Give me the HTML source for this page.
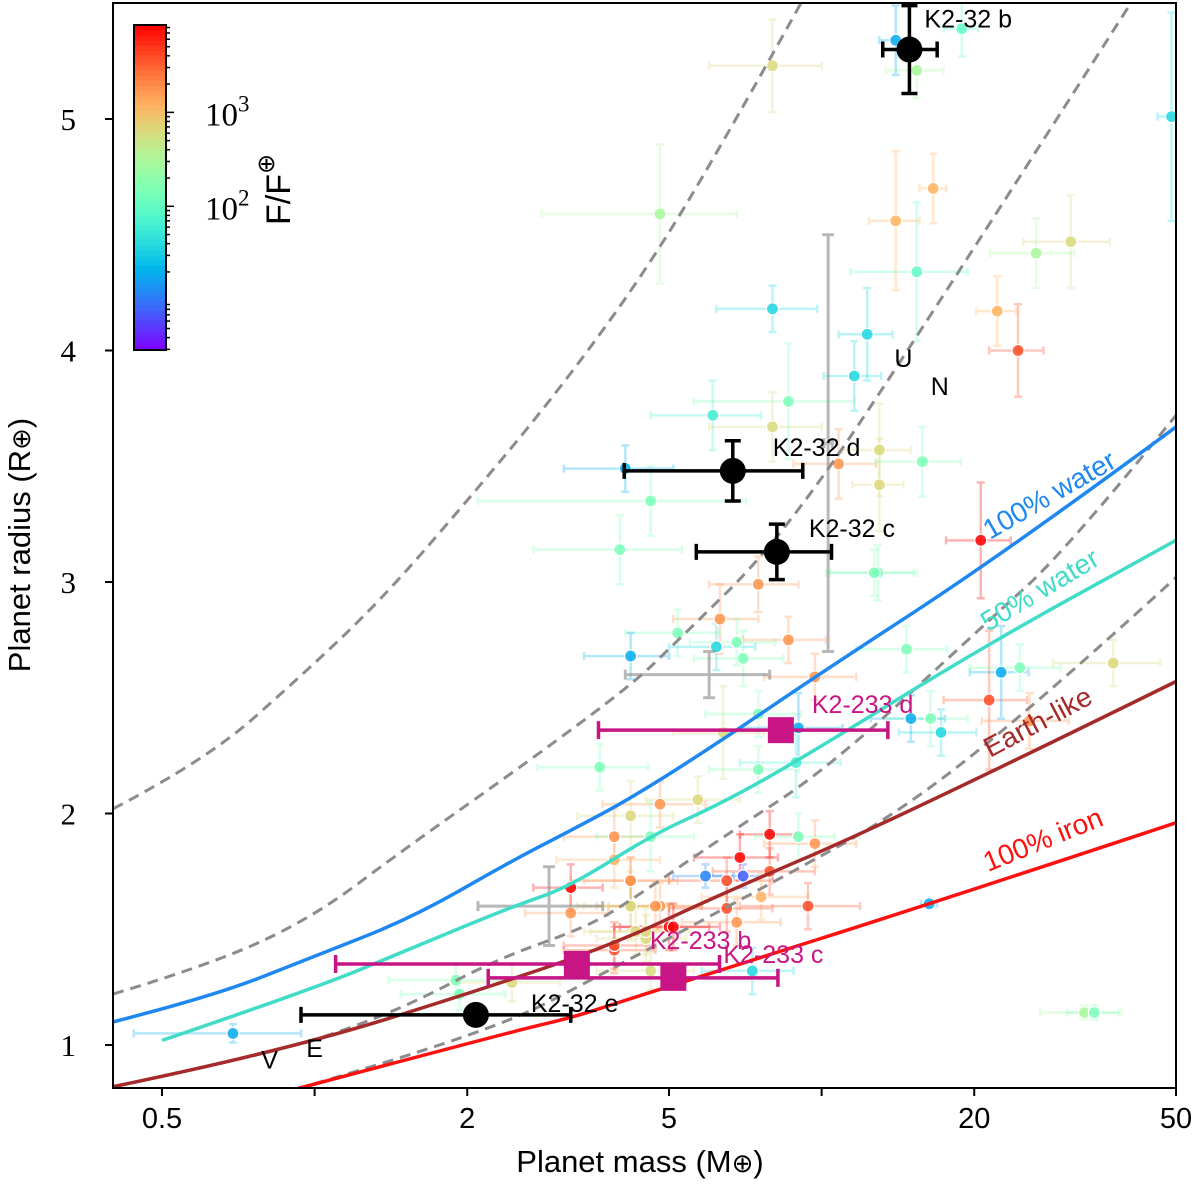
<!DOCTYPE html>
<html><head><meta charset="utf-8"><style>
html,body{margin:0;padding:0;background:#fff;}
svg{display:block;}
text{font-family:"Liberation Sans",sans-serif;}
.serif{font-family:"Liberation Serif",serif;}
</style></head><body>
<svg id="chart" width="1200" height="1184" viewBox="0 0 1200 1184" xmlns="http://www.w3.org/2000/svg">
<defs>
<clipPath id="plotclip"><rect x="113" y="3" width="1063" height="1085"/></clipPath>
</defs>
<g id="bg" clip-path="url(#plotclip)"></g>
<g id="curves" clip-path="url(#plotclip)"></g>
<g id="hl" clip-path="url(#plotclip)"></g>
<rect x="113" y="3" width="1063" height="1085" fill="none" stroke="#000" stroke-width="2"/>
<g id="axes"></g>
<g id="cbar"></g>
<text x="640" y="1172" font-size="31" text-anchor="middle">Planet mass (M<tspan font-size="26">⊕</tspan>)</text>
<text transform="translate(30,545) rotate(-90)" font-size="31" text-anchor="middle">Planet radius (R<tspan font-size="26">⊕</tspan>)</text>
</svg>
<script>
// ---- data ----
const xTickVals = [0.5, 2, 5, 20, 50];
const xTickLabels = ["0.5", "2", "5", "20", "50"];
const xMinorTicks = [1, 10];
const yTickVals = [1, 2, 3, 4, 5];
const yTickLabels = ["1", "2", "3", "4", "5"];

// composition curves (mass, radius)
const water100M = [0.40, 0.63, 0.99, 1.56, 2.47, 3.16, 4.24, 6.3, 9.70, 23.5, 50];
const water100R = [1.10, 1.21, 1.38, 1.55, 1.80, 1.92, 2.07, 2.31, 2.59, 3.14, 3.67];
const water50M = [0.5, 0.99, 1.56, 2.47, 3.16, 4.65, 6.3, 9.02, 20.8, 46.3, 50];
const water50R = [1.02, 1.24, 1.42, 1.60, 1.68, 1.91, 2.04, 2.23, 2.72, 3.14, 3.18];
const earthM = [0.40, 0.86, 2.28, 3.94, 6.3, 14.2, 50];
const earthR = [0.82, 0.97, 1.26, 1.44, 1.65, 1.98, 2.57];
const ironM = [0.92, 2.47, 3.24, 4.06, 6.05, 16.4, 50];
const ironR = [0.81, 1.06, 1.12, 1.19, 1.31, 1.61, 1.96];
const dash1M = [0.40, 0.61, 0.937, 1.35, 2.0, 3.04, 4.59, 6.6, 9.1];
const dash1R = [2.02, 2.23, 2.59, 2.92, 3.35, 3.83, 4.37, 4.95, 5.50];
const dash2M = [0.40, 0.63, 0.99, 1.49, 2.70, 4.24, 5.0, 8.28, 15.4, 40.7];
const dash2R = [1.22, 1.35, 1.55, 1.84, 2.24, 2.56, 2.71, 3.18, 4.05, 5.50];
const dash3M = [0.40, 0.86, 1.47, 2.28, 3.45, 4.24, 6.3, 10.4, 20.8, 30.5, 50];
const dash3R = [0.82, 0.97, 1.15, 1.37, 1.51, 1.63, 1.89, 2.20, 2.81, 3.14, 3.72];
const dash4M = [0.92, 1.47, 2.47, 3.24, 7.98, 14.7, 29.5, 50];
const dash4R = [0.81, 0.94, 1.11, 1.24, 1.70, 2.02, 2.56, 3.02];

// background planets
const bgMass = [0.69,1.9,1.93,2.45,3.2,3.2,3.9,4.3,4.6,5.0,4.5,4.2,4.8,3.9,3.9,4.2,4.6,4.8,5.7,4.2,3.65,
 7.5,6.3,5.2,4.2,6.2,6.8,7.0,8.6,12.9,9.7,14.7,7.5,9.0,6.4,15.0,16.4,17.2,21.4,25.7,22.6,24.6,37.6,8.9,7.5,
 7.9,9.0,9.7,6.9,7.0,6.5,7.9,4.2,7.6,6.5,9.4,4.7,4.2,6.8,5.1,4.5,3.9,16.3,7.3,
 8.0,14.0,15.4,18.9,49,16.6,14.0,4.8,15.4,31,26.5,8.0,22.2,24.4,12.3,11.6,8.6,6.1,8.0,13,10.8,15.8,13,20.6,12.7,4.6,4.1,4.0,33,34.5,5.9];
const bgRad = [1.05,1.28,1.22,1.27,1.68,1.57,1.41,1.49,1.32,1.51,1.46,1.6,1.6,1.9,1.8,1.71,1.9,2.04,2.06,1.99,2.2,
 2.99,2.84,2.78,2.68,2.72,2.74,2.67,2.75,3.04,2.59,2.71,2.43,2.37,2.35,2.41,2.41,2.35,2.49,2.40,2.61,2.63,2.65,2.22,2.19,
 1.91,1.9,1.87,1.81,1.73,1.71,1.75,1.71,1.64,1.59,1.6,1.6,1.6,1.53,1.51,1.49,1.43,1.61,1.32,
 5.23,5.34,5.21,5.39,5.01,4.70,4.56,4.59,4.34,4.47,4.42,4.18,4.17,4.0,4.07,3.89,3.78,3.72,3.67,3.57,3.51,3.52,3.42,3.18,3.04,3.35,3.49,3.14,1.14,1.14,1.73];
const bgFlux = [19,148,148,660,9000,1780,4000,660,660,9000,660,660,1780,1780,1170,1780,148,1780,660,660,148,
 1780,1780,148,19,37,148,148,1780,148,1780,148,148,19,660,19,148,37,4000,1780,19,148,660,60,148,
 9000,148,1780,9000,8,4000,4000,1780,1170,4000,4000,1780,660,1780,9000,660,4000,19,37,
 660,19,300,100,37,1170,1170,300,100,660,300,37,1170,4000,37,37,148,60,660,660,1780,148,660,9000,148,148,19,148,300,148,12];
const bgMassErr = [0.25,0.5,0.45,0.6,0.5,0.6,0.8,0.9,1.0,1.0,0.9,0.8,1.0,0.8,0.9,0.8,1.0,1.1,1.2,0.9,0.9,
 1.5,1.2,1.1,0.8,1.2,1.3,1.4,1.6,2.5,2.0,3.0,1.6,2.0,1.3,2.5,3.0,3.0,4.0,5.0,3.0,5.0,9.0,2.0,1.5,
 1.0,1.6,2.0,1.3,1.0,1.5,1.8,1.0,1.8,1.5,2.5,1.1,0.9,1.5,1.2,1.0,0.8,0.6,1.5,
 2.0,1.0,2.0,1.5,3.0,1.0,1.6,2.0,4.0,6.0,5.0,1.8,2.0,3.0,1.5,1.5,3.0,1.5,2.0,2.0,2.0,3.0,1.5,3.0,2.5,2.5,1.0,1.3,6.0,4.0,0.8];
const bgRadErr = [0.04,0.07,0.07,0.08,0.1,0.1,0.1,0.1,0.08,0.1,0.1,0.15,0.1,0.12,0.12,0.1,0.15,0.1,0.1,0.15,0.1,
 0.12,0.15,0.1,0.1,0.1,0.1,0.12,0.1,0.12,0.1,0.1,0.1,0.15,0.2,0.1,0.12,0.1,0.3,0.12,0.2,0.1,0.1,0.15,0.1,
 0.1,0.1,0.1,0.1,0.05,0.1,0.1,0.1,0.1,0.1,0.1,0.1,0.1,0.1,0.1,0.1,0.1,0.02,0.1,
 0.2,0.15,0.12,0.12,0.45,0.15,0.3,0.3,0.3,0.2,0.15,0.1,0.15,0.2,0.2,0.15,0.25,0.15,0.15,0.2,0.15,0.15,0.2,0.25,0.1,0.15,0.1,0.15,0.03,0.03,0.05];

// gray (uncertain) planets
const grayMass = [2.9, 6.0, 10.3];
const grayRad = [1.6, 2.6, 3.6];
const grayMassErrLo = [0.8, 1.9, 0.2];
const grayMassErrHi = [0.8, 1.9, 0.2];
const grayRadErr = [0.17, 0.1, 0.9];

// K2-32 planets
const k32Names = ["K2-32 b", "K2-32 d", "K2-32 c", "K2-32 e"];
const k32Mass = [14.9, 6.68, 8.16, 2.08];
const k32Rad = [5.30, 3.48, 3.13, 1.13];
const k32MLo = [1.7, 2.6, 2.5, 1.14];
const k32MHi = [2.0, 2.5, 2.3, 1.12];
const k32RErr = [0.19, 0.13, 0.12, 0.0];
// K2-233 planets
const k233Names = ["K2-233 d", "K2-233 b", "K2-233 c"];
const k233Mass = [8.31, 3.29, 5.1];
const k233Rad = [2.36, 1.35, 1.29];
const k233MLo = [4.68, 2.19, 2.9];
const k233MHi = [5.2, 3.0, 3.1];
// solar system
const solarNames = ["V", "E", "U", "N"];
const solarMass = [0.815, 1.0, 14.5, 17.1];
const solarRad = [0.95, 1.0, 3.98, 3.86];

// ---- scales ----
const NS = "http://www.w3.org/2000/svg";
function xS(m){ return 162 + 507*Math.log10(m/0.5); }
function yS(r){ return 1045 - 231.5*(r-1); }
const fluxLogMin = 0.47, fluxLogMax = 3.93;
function rainbow(t){
  t = Math.max(0, Math.min(1, t));
  const r = Math.min(1, Math.abs(2*t-0.5)), g = Math.sin(Math.PI*t), b = Math.cos(Math.PI*t/2);
  return `rgb(${Math.round(r*255)},${Math.round(g*255)},${Math.round(b*255)})`;
}
function fluxColor(f){ return rainbow((Math.log10(f)-fluxLogMin)/(fluxLogMax-fluxLogMin)); }
function mk(tag, attrs, parent){
  const e = document.createElementNS(NS, tag);
  for (const k in attrs) e.setAttribute(k, attrs[k]);
  parent.appendChild(e); return e;
}
function smoothPath(pts){
  let d = `M${pts[0][0].toFixed(1)},${pts[0][1].toFixed(1)}`;
  if (pts.length < 3){ d += ` L${pts[1][0]},${pts[1][1]}`; return d; }
  for (let i=1;i<pts.length-1;i++){
    const mx = (pts[i][0]+pts[i+1][0])/2, my = (pts[i][1]+pts[i+1][1])/2;
    if (i === pts.length-2) d += ` Q${pts[i][0].toFixed(1)},${pts[i][1].toFixed(1)} ${pts[i+1][0].toFixed(1)},${pts[i+1][1].toFixed(1)}`;
    else d += ` Q${pts[i][0].toFixed(1)},${pts[i][1].toFixed(1)} ${mx.toFixed(1)},${my.toFixed(1)}`;
  }
  return d;
}
function drawCurve(ms, rs, color, w, dash, name){
  const pts = ms.map((m,i)=>[xS(m), yS(rs[i])]);
  const p = mk("path", {d: smoothPath(pts), fill:"none", stroke: color, "stroke-width": w}, document.getElementById("curves"));
  if (dash) p.setAttribute("stroke-dasharray", dash);
  
  
}

// ---- background points ----
const bg = document.getElementById("bg");
for (let i=0;i<bgMass.length;i++){
  const c = fluxColor(bgFlux[i]);
  const x = xS(bgMass[i]), y = yS(bgRad[i]);
  const x0 = xS(Math.max(0.05,bgMass[i]-bgMassErr[i])), x1 = xS(bgMass[i]+bgMassErr[i]);
  const y0 = yS(bgRad[i]-bgRadErr[i]), y1 = yS(bgRad[i]+bgRadErr[i]);
  const g = mk("g", {}, bg);
  
  
  mk("path", {d:`M${x0},${y}H${x1}M${x},${y0}V${y1}M${x0},${y-4}v8M${x1},${y-4}v8M${x-4},${y0}h8M${x-4},${y1}h8`, stroke:c, "stroke-width":2.5, "stroke-opacity":0.3, fill:"none"}, g);
}
for (let i=0;i<bgMass.length;i++){
  const dot = mk("circle", {cx:xS(bgMass[i]), cy:yS(bgRad[i]), r:6, fill:fluxColor(bgFlux[i]), stroke:"#fff", "stroke-width":1.2, "fill-opacity":0.85}, bg);
  
  
}
for (let i=0;i<grayMass.length;i++){
  const x = xS(grayMass[i]), y = yS(grayRad[i]);
  const x0 = xS(grayMass[i]-grayMassErrLo[i]), x1 = xS(grayMass[i]+grayMassErrHi[i]);
  const y0 = yS(grayRad[i]-grayRadErr[i]), y1 = yS(grayRad[i]+grayRadErr[i]);
  const p = mk("path", {d:`M${x0},${y}H${x1}M${x},${y0}V${y1}M${x0},${y-5}v10M${x1},${y-5}v10M${x-6},${y0}h12M${x-6},${y1}h12`, stroke:"#888", "stroke-width":3, "stroke-opacity":0.6, fill:"none"}, bg);
  
  
}

// ---- curves ----
drawCurve(dash1M, dash1R, "#8c8c8c", 3, "11,7", "dashed-curve-1");
drawCurve(dash2M, dash2R, "#8c8c8c", 3, "11,7", "dashed-curve-2");
drawCurve(dash3M, dash3R, "#8c8c8c", 3, "11,7", "dashed-curve-3");
drawCurve(dash4M, dash4R, "#8c8c8c", 3, "11,7", "dashed-curve-4");
drawCurve(water100M, water100R, "#1e88f0", 3.5, null, "water-100-curve");
drawCurve(water50M, water50R, "#40dcc8", 3.5, null, "water-50-curve");
drawCurve(earthM, earthR, "#a52a2a", 3.5, null, "earth-like-curve");
drawCurve(ironM, ironR, "#ff1010", 3.5, null, "iron-100-curve");

const cv = document.getElementById("curves");
function curveLabel(txt, x, y, ang, color, name){
  const t = mk("text", {x:x, y:y, fill:color, "font-size":28, transform:`rotate(${ang} ${x} ${y})`}, cv);
  t.textContent = txt;
  
  
}
curveLabel("100% water", 990, 540, -30, "#1e88f0", "water-100-label");
curveLabel("50% water", 988, 632, -31, "#40dcc8", "water-50-label");
curveLabel("Earth-like", 990, 758, -28, "#a52a2a", "earth-like-label");
curveLabel("100% iron", 988, 872, -22, "#ff1010", "iron-100-label");

// ---- highlighted ----
const hl = document.getElementById("hl");
for (let i=0;i<k233Mass.length;i++){
  const x = xS(k233Mass[i]), y = yS(k233Rad[i]);
  const x0 = xS(k233Mass[i]-k233MLo[i]), x1 = xS(k233Mass[i]+k233MHi[i]);
  const p = mk("path", {d:`M${x0},${y}H${x1}M${x0},${y-9}v18M${x1},${y-9}v18`, stroke:"#c71585", "stroke-width":3.5, fill:"none"}, hl);
  
  
  const s = mk("rect", {x:x-13, y:y-13, width:26, height:26, fill:"#c71585"}, hl);
  
  
}
for (let i=0;i<k32Mass.length;i++){
  const x = xS(k32Mass[i]), y = yS(k32Rad[i]);
  const x0 = xS(k32Mass[i]-k32MLo[i]), x1 = xS(k32Mass[i]+k32MHi[i]);
  const y0 = yS(k32Rad[i]-k32RErr[i]), y1 = yS(k32Rad[i]+k32RErr[i]);
  let d = `M${x0},${y}H${x1}M${x0},${y-8}v16M${x1},${y-8}v16`;
  if (k32RErr[i]>0) d += `M${x},${y0}V${y1}M${x-8},${y0}h16M${x-8},${y1}h16`;
  const p = mk("path", {d:d, stroke:"#000", "stroke-width":3.5, fill:"none"}, hl);
  
  
  const c = mk("circle", {cx:x, cy:y, r:13, fill:"#000"}, hl);
  
  
}
const k32LabelDx = [15, 40, 32, 55], k32LabelDy = [-22, -15, -15, -3];
for (let i=0;i<k32Names.length;i++){
  const t = mk("text", {x:xS(k32Mass[i])+k32LabelDx[i], y:yS(k32Rad[i])+k32LabelDy[i], "font-size":25, fill:"#000"}, hl);
  t.textContent = k32Names[i];
  
  
}
const k233LabelDx = [31, 73, 50], k233LabelDy = [-17, -15, -15];
for (let i=0;i<k233Names.length;i++){
  const t = mk("text", {x:xS(k233Mass[i])+k233LabelDx[i], y:yS(k233Rad[i])+k233LabelDy[i], "font-size":25, fill:"#c71585"}, hl);
  t.textContent = k233Names[i];
  
  
}
for (let i=0;i<solarNames.length;i++){
  const t = mk("text", {x:xS(solarMass[i]), y:yS(solarRad[i])+12, "font-size":25, fill:"#000", "text-anchor":"middle"}, hl);
  t.textContent = solarNames[i];
  
  
}

// ---- axes ----
const ax = document.getElementById("axes");
for (let i=0;i<xTickVals.length;i++){
  const x = xS(xTickVals[i]);
  const l = mk("line", {x1:x, y1:1088, x2:x, y2:1096, stroke:"#000", "stroke-width":2}, ax);
  
  
  const t = mk("text", {x:x, y:1128, "font-size":29, "text-anchor":"middle"}, ax);
  t.textContent = xTickLabels[i];
  
  
}
for (const v of xMinorTicks){
  const l = mk("line", {x1:xS(v), y1:1088, x2:xS(v), y2:1096, stroke:"#000", "stroke-width":2}, ax);
  
  
}
for (let i=0;i<yTickVals.length;i++){
  const y = yS(yTickVals[i]);
  const l = mk("line", {x1:105, y1:y, x2:113, y2:y, stroke:"#000", "stroke-width":2}, ax);
  
  
  const t = mk("text", {x:76, y:y+11, "font-size":31, "text-anchor":"end", class:"serif"}, ax);
  t.textContent = yTickLabels[i];
  
  
}

// ---- colorbar ----
const cb = document.getElementById("cbar");
const cbTop = 25, cbBot = 350, cbL = 134, cbR = 166;
for (let k=0;k<65;k++){
  const y0 = cbBot - (k+1)*(cbBot-cbTop)/65;
  const r = mk("rect", {x:cbL, y:y0.toFixed(2), width:cbR-cbL, height:((cbBot-cbTop)/65+0.6).toFixed(2), fill:rainbow((k+0.5)/65)}, cb);
  
  
}
const cbf = mk("rect", {x:cbL, y:cbTop, width:cbR-cbL, height:cbBot-cbTop, fill:"none", stroke:"#000", "stroke-width":2}, cb);


function cbY(f){ return cbBot - (Math.log10(f)-fluxLogMin)/(fluxLogMax-fluxLogMin)*(cbBot-cbTop); }
const cbMinor = [];
for (const dec of [1,10,100,1000]) for (let m=2;m<=9;m++) cbMinor.push(dec*m);
for (const f of cbMinor){
  const y = cbY(f); if (y<cbTop||y>cbBot) continue;
  const l = mk("line", {x1:cbR, y1:y, x2:cbR+4, y2:y, stroke:"#000", "stroke-width":1.5}, cb);
  
  
}
const cbMajorVals = [100, 1000];
const cbMajorExp = ["2", "3"];
for (let i=0;i<cbMajorVals.length;i++){
  const y = cbY(cbMajorVals[i]);
  const l = mk("line", {x1:cbR, y1:y, x2:cbR+8, y2:y, stroke:"#000", "stroke-width":1.5}, cb);
  
  
  const t = mk("text", {x:205, y:y+13, "font-size":33, class:"serif"}, cb);
  t.innerHTML = `10<tspan dy="-14" font-size="23">${cbMajorExp[i]}</tspan>`;
  
  
}
const ct = mk("text", {transform:"translate(290,225) rotate(-90)", "font-size":34}, cb);
ct.innerHTML = `F/F<tspan dy="-16" font-size="24">⊕</tspan>`;


</script>
</body></html>
